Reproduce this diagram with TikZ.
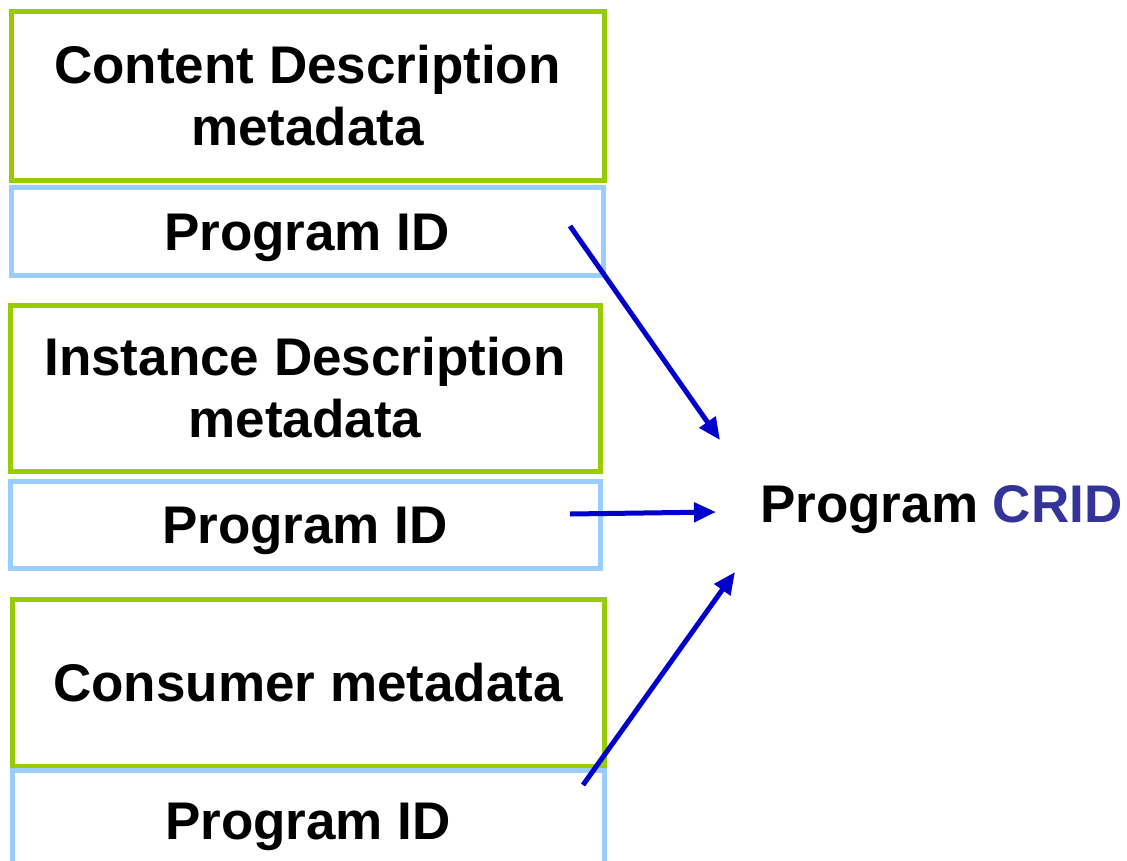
\documentclass[tikz,border=0pt]{standalone}
\usepackage{fontspec}
\setmainfont{Liberation Sans}
\usetikzlibrary{arrows.meta}
\definecolor{boxgreen}{HTML}{99CC00}
\definecolor{boxblue}{HTML}{99CCFF}
\definecolor{arrowblue}{HTML}{0000CC}
\definecolor{cridblue}{HTML}{333399}
\begin{document}
\begin{tikzpicture}[x=1pt,y=-1pt,
  basebox/.style={rectangle,line width=5pt,inner sep=0pt,align=center,
    font=\fontsize{53}{62}\selectfont\bfseries},
  metabox/.style={basebox,draw=boxgreen},
  idbox/.style={basebox,draw=boxblue,text height=38pt,text depth=0pt},
  link/.style={draw=arrowblue,line width=5pt,-{Triangle[length=22pt,width=19pt]}},
  labeltext/.style={inner sep=0pt,font=\fontsize{53}{62}\selectfont\bfseries}]
\useasboundingbox (0,0) rectangle (1127,860);
% stack 1
\node[metabox,minimum width=593pt,minimum height=169pt] (cd) at (307.5,95.5) {Content Description\\metadata};
\node[idbox,minimum width=592pt,minimum height=88pt] (pid1) at (307,231) {Program ID};
% stack 2
\node[metabox,minimum width=590pt,minimum height=166pt] (idm) at (305,388) {Instance Description\\metadata};
\node[idbox,minimum width=590pt,minimum height=87pt] (pid2) at (305,524.5) {Program ID};
% stack 3
\node[metabox,minimum width=592pt,minimum height=167pt] (cm) at (308,682.5) {Consumer metadata};
\node[idbox,minimum width=592pt,minimum height=100pt] (pid3) at (308,820) {Program ID};
% target
\node[labeltext,anchor=base west] (crid) at (760,522) {Program \textcolor{cridblue}{CRID}};
% connector ends
\coordinate (s1) at (570,226);
\coordinate (e1) at (720,440);
\coordinate (s2) at (570,514);
\coordinate (e2) at (716,512);
\coordinate (s3) at (583,785);
\coordinate (e3) at (735,572);
\draw[link] (s1) -- (e1);
\draw[link] (s2) -- (e2);
\draw[link] (s3) -- (e3);
\end{tikzpicture}
\end{document}
